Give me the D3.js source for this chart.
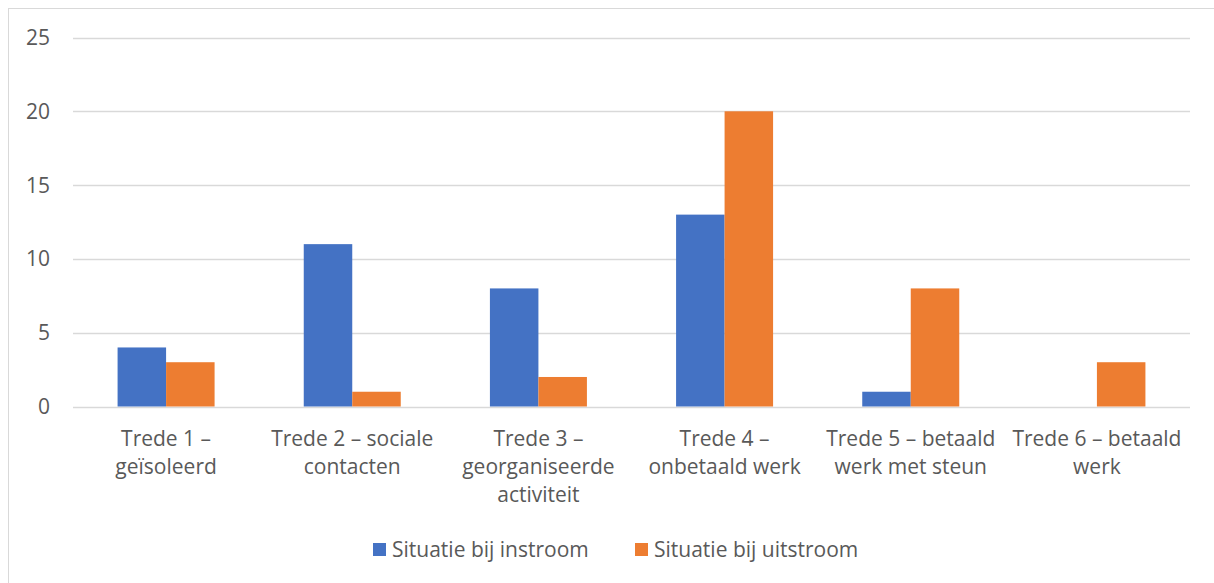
<!DOCTYPE html>
<html>
<head>
<meta charset="utf-8">
<script src="https://cdn.jsdelivr.net/npm/d3@7"></script>
<style>
  body { margin: 0; background: #fff; }
  svg { display: block; }
</style>
</head>
<body>
<div id="chart"></div>
<script>
// data
let categories = [
  "Trede 1 –\ngeïsoleerd",
  "Trede 2 – sociale\ncontacten",
  "Trede 3 –\ngeorganiseerde\nactiviteit",
  "Trede 4 –\nonbetaald werk",
  "Trede 5 – betaald\nwerk met steun",
  "Trede 6 – betaald\nwerk"
]
let seriesNames = ["Situatie bij instroom", "Situatie bij uitstroom"]
let instroom = [4, 11, 8, 13, 1, 0]
let uitstroom = [3, 1, 2, 20, 8, 3]
let yTicks = [0, 5, 10, 15, 20, 25]
let colors = ["#4472c4", "#ed7d31"]

let W = 1214, H = 583
let margin = {top: 37, right: 24, bottom: 177, left: 73}
let font = "Open Sans, sans-serif"

var svg = d3.select("#chart")
  .append("svg")
  .attr("width", W)
  .attr("height", H)

// chart frame
svg.append("rect")
  .attr("x", 8.5)
  .attr("y", 8.5)
  .attr("width", W + 10)
  .attr("height", H + 10)
  .attr("fill", "none")
  .attr("stroke", "#d9d9d9")

var x0 = d3.scaleBand()
  .domain(d3.range(categories.length))
  .range([margin.left, W - margin.right])

var x1 = d3.scaleBand()
  .domain([0, 1])
  .range([0, 97])

var y = d3.scaleLinear()
  .domain([0, 25])
  .range([406.5, 37.5])

// gridlines
svg.append("g")
  .selectAll("line")
  .data(yTicks)
  .join("line")
  .attr("x1", margin.left)
  .attr("x2", W - margin.right)
  .attr("y1", d => Math.round(y(d)) + 0.5)
  .attr("y2", d => Math.round(y(d)) + 0.5)
  .attr("stroke", "#d9d9d9")
  .attr("stroke-width", 1.5)

// y labels
svg.append("g")
  .selectAll("text")
  .data(yTicks)
  .join("text")
  .attr("x", 50)
  .attr("y", d => y(d) + 7.5)
  .attr("text-anchor", "end")
  .attr("font-family", font)
  .attr("font-size", 21)
  .attr("fill", "#595959")
  .text(d => d)

// bars
let series = [instroom, uitstroom]
series.forEach(function(vals, s) {
  svg.append("g")
    .selectAll("rect")
    .data(vals)
    .join("rect")
    .attr("x", (d, i) => x0(i) + (x0.bandwidth() - 97) / 2 + x1(s))
    .attr("y", d => y(d))
    .attr("width", x1.bandwidth())
    .attr("height", d => y(0) - y(d))
    .attr("fill", colors[s])
})

// category labels
let labels = svg.append("g")
  .selectAll("text")
  .data(categories)
  .join("text")
  .attr("text-anchor", "middle")
  .attr("font-family", font)
  .attr("font-size", 21)
  .attr("fill", "#595959")
  .attr("transform", (d, i) => "translate(" + (x0(i) + x0.bandwidth() / 2) + ",446)")

labels.selectAll("tspan")
  .data(d => d.split("\n"))
  .join("tspan")
  .attr("x", 0)
  .attr("y", (d, i) => i * 28)
  .text(d => d)

// legend
let legendX = [373, 635]
seriesNames.forEach(function(name, s) {
  svg.append("rect")
    .attr("x", legendX[s])
    .attr("y", 543)
    .attr("width", 13)
    .attr("height", 13)
    .attr("fill", colors[s])
  svg.append("text")
    .attr("x", legendX[s] + 19)
    .attr("y", 557)
    .attr("font-family", font)
    .attr("font-size", 21)
    .attr("fill", "#595959")
    .text(name)
})
</script>
</body>
</html>
